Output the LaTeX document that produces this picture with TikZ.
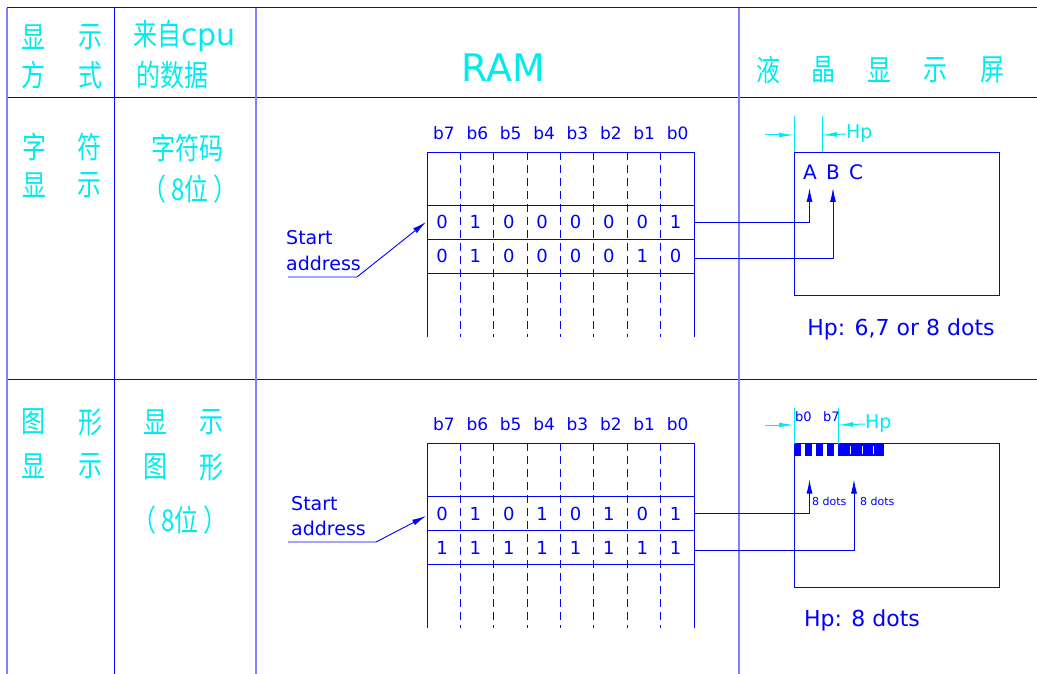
\documentclass[tikz,border=0pt]{standalone}
\usepackage{fontspec}
\setmainfont{DejaVu Sans}
\newfontfamily\cjk[FakeStretch=0.8]{Noto Sans CJK SC}
\usetikzlibrary{arrows.meta}
\definecolor{cadcyan}{RGB}{0,235,240}
\definecolor{cadblue}{RGB}{0,0,255}

\begin{document}
\begin{tikzpicture}[x=1pt, y=-1pt,
  rule/.style={draw=cadblue, line width=1pt},
  frame/.style={draw=cadblue!50, line width=1.5pt},
  cell/.style={draw=cadblue, line width=0.9pt},
  dsh/.style={cell, dash pattern=on 8pt off 5pt},
  han/.style={font=\cjk\fontsize{30}{30}\selectfont, text=cadcyan, inner sep=0pt},
  bitno/.style={font=\fontsize{17}{17}\selectfont, text=cadblue, inner sep=0pt},
  bit/.style={font=\fontsize{18}{18}\selectfont, text=cadblue, inner sep=0pt},
  lbl/.style={font=\fontsize{19}{19}\selectfont, text=cadblue, inner sep=0pt},
  note/.style={font=\fontsize{22}{22}\selectfont, text=cadblue, inner sep=0pt},
  tiny/.style={font=\fontsize{11}{11}\selectfont, text=cadblue, inner sep=0pt},
  hp/.style={font=\fontsize{19}{19}\selectfont, text=cadcyan, inner sep=0pt, anchor=west},
  arr/.style={-{Latex[length=14pt, width=6pt]}, draw=cadblue, line width=0.9pt},
  dim/.style={-{Latex[length=15pt, width=5pt]}, draw=cadcyan, line width=1pt},
  ext/.style={draw=cadcyan, line width=1pt}
]
\useasboundingbox (0,0) rectangle (1037,674);

\draw[rule] (7,8) -- (1037,8);
\draw[rule] (7,98) -- (1037,98);
\draw[rule] (7,379) -- (1037,379);
\draw[rule] (114,8) -- (114,674);
\draw[frame] (7,8) -- (7,674);
\draw[frame] (256,8) -- (256,674);
\draw[frame] (739,8) -- (739,674);

\node[han] (xs1) at (33,37) {显};
\node[han] (xs2) at (90,37) {示};
\node[han] (fs1) at (33,75) {方};
\node[han] (fs2) at (90,75) {式};
\node[han, anchor=west] (cpu) at (133,36) {来自\rmfamily cpu};
\node[han, anchor=west] (data) at (136,75) {的数据};
\node[font=\fontsize{38}{38}\selectfont, text=cadcyan, inner sep=0pt] (ram) at (503,68) {RAM};
\foreach \x/\c [count=\i] in {768/液, 823/晶, 879/显, 935/示, 992/屏}
  \node[han] (lcd\i) at (\x,70) {\c};

\node[han] (zf1) at (35,147) {字};
\node[han] (zf2) at (89,147) {符};
\node[han] (zf3) at (35,185) {显};
\node[han] (zf4) at (89,185) {示};
\node[han] (code) at (187,148) {字符码};
\node[han] (bits1) at (190,189) {（\,8位\,）};

\node[han] (tx1) at (33,422) {图};
\node[han] (tx2) at (90,422) {形};
\node[han] (tx3) at (33,466) {显};
\node[han] (tx4) at (90,466) {示};
\node[han] (gx1) at (155,422) {显};
\node[han] (gx2) at (211,422) {示};
\node[han] (gx3) at (155,467) {图};
\node[han] (gx4) at (211,467) {形};
\node[han] (bits2) at (180,520) {（\,8位\,）};

\foreach \k/\t in {1/152, 2/443} {
  \draw[cell] (427,\t) -- (694,\t);
  \draw[cell] (427,\t+53) -- (694,\t+53);
  \draw[cell] (427,\t+87) -- (694,\t+87);
  \draw[cell] (427,\t+121) -- (694,\t+121);
  \draw[cell] (427,\t) -- (427,\t+185);
  \draw[cell] (694,\t) -- (694,\t+185);
  \foreach \i in {1,...,7}
    \draw[dsh] (427+33.375*\i,\t) -- (427+33.375*\i,\t+185);
  \foreach \b [count=\i from 0] in {7,...,0}
    \node[bitno] (b\b-\k) at (444+33.375*\i,\t-19) {b\b};
}

\foreach \v [count=\i from 0] in {0,1,0,0,0,0,0,1}
  \node[bit] (ma\i) at (442+33.375*\i,221.5) {\v};
\foreach \v [count=\i from 0] in {0,1,0,0,0,0,1,0}
  \node[bit] (mb\i) at (442+33.375*\i,256) {\v};
\foreach \v [count=\i from 0] in {0,1,0,1,0,1,0,1}
  \node[bit] (mc\i) at (442+33.375*\i,513.5) {\v};
\foreach \v [count=\i from 0] in {1,1,1,1,1,1,1,1}
  \node[bit] (md\i) at (442+33.375*\i,547.5) {\v};

\node[lbl, anchor=west] (st1) at (286,238) {Start};
\node[lbl, anchor=west] (ad1) at (286,263) {address};
\coordinate (u1) at (288,277);
\coordinate (k1) at (357,277);
\coordinate (p1) at (426,222);
\draw[arr] (u1) -- (k1) -- (p1);

\node[lbl, anchor=west] (st2) at (291,504) {Start};
\node[lbl, anchor=west] (ad2) at (291,528) {address};
\coordinate (u2) at (288,542);
\coordinate (k2) at (376,542);
\coordinate (p2) at (426,516);
\draw[arr] (u2) -- (k2) -- (p2);

\draw[cell] (794,152) rectangle (999,295);
\node[lbl, font=\fontsize{20}{20}\selectfont] (A) at (810,172) {A};
\node[lbl, font=\fontsize{20}{20}\selectfont] (B) at (833,172) {B};
\node[lbl, font=\fontsize{20}{20}\selectfont] (C) at (856,172) {C};
\coordinate (r1) at (694,222);
\coordinate (tA) at (809.5,188);
\draw[arr] (r1) -| (tA);
\coordinate (r2) at (694,258);
\coordinate (tB) at (833,188);
\draw[arr] (r2) -| (tB);
\draw[ext] (794,116) -- (794,152);
\draw[ext] (822,116) -- (822,152);
\coordinate (h1) at (765,135);
\coordinate (h2) at (794,135);
\coordinate (h3) at (822,135);
\node[hp] (hp1) at (846,134) {Hp};
\draw[dim] (h1) -- (h2);
\draw[dim] (hp1.west) -- (h3);
\node[note] (dots1) at (901,329) {Hp: 6,7 or 8 dots};

\draw[cell] (794,443.5) rectangle (999,587);
\foreach \i in {0,...,3}
  \fill[cadblue] (793.5+11.1*\i,443.5) rectangle ++(7.3,12.3);
\fill[cadblue] (838.3,443.5) rectangle (884,455.8);
\foreach \x in {850,861.7,873.3}
  \draw[white, line width=0.4pt] (\x,446) -- (\x,453.5);
\draw[ext] (794,408) -- (794,443.5);
\draw[ext] (838.3,408) -- (838.3,443.5);
\node[tiny, font=\fontsize{13}{13}\selectfont, anchor=west] (lb0) at (795,417) {b0};
\node[tiny, font=\fontsize{13}{13}\selectfont, anchor=west] (lb7) at (823,417) {b7};
\coordinate (g1) at (765,425);
\coordinate (g2) at (794,425);
\coordinate (g3) at (838.3,425);
\node[hp] (hp2) at (865,424) {Hp};
\draw[dim] (g1) -- (g2);
\draw[dim] (hp2.west) -- (g3);
\coordinate (r3) at (694,513.3);
\coordinate (t3) at (809.5,479.5);
\draw[arr] (r3) -| (t3);
\coordinate (r4) at (694,550.3);
\coordinate (t4) at (854,479.5);
\draw[arr] (r4) -| (t4);
\node[tiny, anchor=west] (e1) at (812,501) {8 dots};
\node[tiny, anchor=west] (e2) at (860,501) {8 dots};
\node[note] (dots2) at (862,620) {Hp: 8 dots};
\end{tikzpicture}
\end{document}
